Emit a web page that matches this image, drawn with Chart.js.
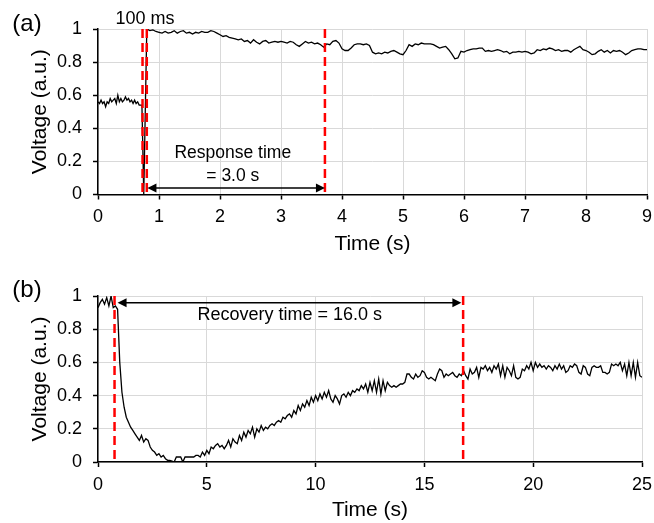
<!DOCTYPE html>
<html><head><meta charset="utf-8">
<script src="https://cdn.jsdelivr.net/npm/chart.js@4.4.1/dist/chart.umd.min.js"></script>
<style>
html,body{margin:0;padding:0;background:#fff;}
#ca{position:absolute;left:0;top:0;}
#cb{position:absolute;left:0;top:262px;}
</style></head><body>
<canvas id="ca" width="654" height="260"></canvas>
<canvas id="cb" width="654" height="261"></canvas>
<script>
// ---------- DATA ----------
const voltageTicks = [0, 0.2, 0.4, 0.6, 0.8, 1];
const timeTicksA = [0, 1, 2, 3, 4, 5, 6, 7, 8, 9];
const timeTicksB = [0, 5, 10, 15, 20, 25];

// Panel (a): baseline before the step, sampled every 0.025 s from 0 s
const stepA_pre = 0.025;
const voltageA_pre = [0.56,0.55,0.57,0.55,0.56,0.53,0.56,0.55,0.58,0.56,0.57,0.58,0.55,0.60,0.56,0.58,0.56,0.57,0.59,0.57,0.58,0.56,0.57,0.55,0.57,0.55,0.56,0.54,0.54];
// Panel (a): transition points
const timeA_edge = [0.72, 0.75];
const voltageA_edge = [0.54, 0.0];
// Panel (a): after the step, sampled every 0.05 s from 0.80 s
const startA_post = 0.80, stepA_post = 0.05;
const voltageA_post = [
1.00,0.99,0.995,0.985,0.98,0.975,0.985,0.975,0.98,0.99,0.975,0.985,0.99,0.975,0.98,0.97,0.98,0.975,0.985,0.98,0.98,0.99,0.985,0.975,0.965,
0.955,0.96,0.95,0.945,0.94,0.935,0.94,0.925,0.93,0.915,0.935,0.92,0.91,0.925,0.93,0.915,0.92,0.925,0.92,0.925,
0.92,0.915,0.925,0.92,0.905,0.895,0.91,0.925,0.915,0.92,0.91,0.915,0.905,0.89,0.91,0.905,0.925,0.93,0.915,0.88,
0.87,0.87,0.885,0.905,0.91,0.91,0.905,0.91,0.9,0.86,0.85,0.855,0.85,0.86,0.855,0.865,0.87,0.86,0.85,0.845,
0.87,0.905,0.895,0.91,0.905,0.915,0.91,0.91,0.91,0.905,0.895,0.885,0.89,0.895,0.875,0.85,0.82,0.825,0.865,0.86,
0.87,0.875,0.88,0.88,0.885,0.885,0.865,0.87,0.865,0.87,0.875,0.87,0.86,0.865,0.85,0.86,0.86,0.865,0.86,0.865,
0.86,0.85,0.855,0.875,0.87,0.88,0.875,0.885,0.88,0.87,0.875,0.865,0.87,0.87,0.86,0.875,0.885,0.895,0.875,0.87,
0.86,0.845,0.85,0.865,0.875,0.86,0.87,0.855,0.87,0.865,0.87,0.86,0.845,0.855,0.87,0.875,0.88,0.88,0.875,0.875];

// Panel (b): sampled every 0.1 s from 0 s to 25 s
const stepB = 0.1;
const voltageB = [
0.93,0.96,0.98,0.95,0.99,0.94,1.00,0.93,0.94,0.92,
0.60,0.42,0.33,0.27,0.24,0.21,0.19,0.17,0.15,0.13,
0.16,0.12,0.14,0.13,0.09,0.07,0.06,0.04,0.05,0.03,
0.04,0.02,0.01,0.01,0.005,0.00,0.03,0.03,0.03,0.00,
0.03,0.03,0.03,0.03,0.03,0.04,0.04,0.03,0.06,0.04,
0.07,0.05,0.09,0.08,0.10,0.11,0.09,0.10,0.08,0.10,
0.13,0.09,0.14,0.12,0.11,0.16,0.13,0.18,0.15,0.19,
0.17,0.21,0.15,0.20,0.18,0.22,0.19,0.21,0.20,0.22,
0.23,0.22,0.24,0.25,0.24,0.27,0.26,0.28,0.29,0.27,
0.31,0.29,0.34,0.31,0.35,0.33,0.37,0.34,0.39,0.36,
0.40,0.37,0.41,0.38,0.42,0.39,0.43,0.38,0.36,0.40,
0.38,0.35,0.40,0.41,0.39,0.42,0.40,0.43,0.42,0.44,
0.43,0.46,0.44,0.47,0.42,0.48,0.43,0.49,0.42,0.50,
0.41,0.49,0.43,0.48,0.46,0.45,0.46,0.45,0.46,0.47,
0.47,0.48,0.53,0.53,0.51,0.50,0.53,0.51,0.52,0.55,
0.54,0.51,0.50,0.51,0.50,0.49,0.53,0.56,0.55,0.51,
0.53,0.52,0.53,0.54,0.52,0.51,0.53,0.52,0.55,0.52,
0.50,0.56,0.53,0.54,0.57,0.51,0.57,0.56,0.58,0.55,
0.57,0.54,0.58,0.56,0.59,0.52,0.58,0.51,0.57,0.55,
0.52,0.58,0.51,0.50,0.51,0.56,0.55,0.58,0.56,0.60,
0.55,0.60,0.57,0.59,0.57,0.58,0.56,0.58,0.57,0.55,
0.58,0.56,0.59,0.56,0.58,0.54,0.55,0.58,0.57,0.59,
0.58,0.54,0.53,0.58,0.57,0.53,0.52,0.57,0.58,0.57,
0.57,0.58,0.54,0.54,0.53,0.54,0.59,0.58,0.59,0.58,
0.60,0.55,0.59,0.52,0.60,0.52,0.60,0.51,0.60,0.52,
0.51];

// Annotation values
const markersA = [0.73, 0.80, 3.72];
const arrowA = {from: 0.81, to: 3.72, v: 0.04};
const markersB = [0.76, 16.78];
const arrowB = {from: 0.90, to: 16.70, v: 0.96};

// ---------- BUILD ----------
const r3 = v => Math.round(v * 1000) / 1000;
const pointsA = [];
voltageA_pre.forEach((v, i) => pointsA.push({x: r3(i * stepA_pre), y: v}));
timeA_edge.forEach((t, i) => pointsA.push({x: t, y: voltageA_edge[i]}));
voltageA_post.forEach((v, i) => pointsA.push({x: r3(startA_post + i * stepA_post), y: v}));
const pointsB = voltageB.map((v, i) => ({x: r3(i * stepB), y: v}));

Chart.defaults.font.family = '"Liberation Sans", Arial, sans-serif';
Chart.defaults.color = '#000';

function arrowHead(ctx, x, y, dir) {
  ctx.beginPath();
  ctx.moveTo(x, y);
  ctx.lineTo(x - dir * 9, y - 4.5);
  ctx.lineTo(x - dir * 9, y + 4.5);
  ctx.closePath();
  ctx.fill();
}

function annotPlugin(spec) {
  return {
    id: 'annot',
    afterDatasetsDraw(chart) {
      const ctx = chart.ctx, xs = chart.scales.x, ys = chart.scales.y;
      ctx.save();
      ctx.strokeStyle = '#ff0000';
      ctx.lineWidth = 2.5;
      ctx.setLineDash([9, 5]);
      spec.markers.forEach(t => {
        const px = xs.getPixelForValue(t);
        ctx.beginPath();
        ctx.moveTo(px, ys.getPixelForValue(1));
        ctx.lineTo(px, ys.getPixelForValue(0));
        ctx.stroke();
      });
      ctx.setLineDash([]);
      const a = spec.arrow;
      const y = ys.getPixelForValue(a.v);
      const x1 = xs.getPixelForValue(a.from), x2 = xs.getPixelForValue(a.to);
      ctx.strokeStyle = '#000'; ctx.fillStyle = '#000'; ctx.lineWidth = 1.5;
      ctx.beginPath(); ctx.moveTo(x1 + 6, y); ctx.lineTo(x2 - 6, y); ctx.stroke();
      arrowHead(ctx, x1, y, -1);
      arrowHead(ctx, x2, y, 1);
      ctx.textAlign = 'center';
      ctx.textBaseline = 'middle';
      spec.texts.forEach(tx => {
        ctx.font = tx.size + 'px "Liberation Sans", Arial, sans-serif';
        ctx.fillText(tx.text, xs.getPixelForValue(tx.t), ys.getPixelForValue(tx.v));
      });
      ctx.font = '24px "Liberation Sans", Arial, sans-serif';
      ctx.fillText(spec.panel.text, spec.panel.x, spec.panel.y);
      ctx.restore();
    }
  };
}

function makeChart(id, points, xMax, xTicks, geom, spec) {
  return new Chart(document.getElementById(id), {
    type: 'line',
    data: {datasets: [{data: points, borderColor: '#000', borderWidth: 1.3, pointRadius: 0, tension: 0, fill: false}]},
    options: {
      responsive: false, animation: false, events: [],
      layout: {padding: {top: geom.top, right: geom.right, left: 0, bottom: 0}},
      plugins: {legend: {display: false}, tooltip: {enabled: false}},
      scales: {
        x: {
          type: 'linear', min: 0, max: xMax,
          afterBuildTicks: s => { s.ticks = xTicks.map(v => ({value: v})); },
          afterFit: s => { s.height = geom.xh; s.paddingLeft = 0; s.paddingRight = 0; },
          grid: {color: '#d9d9d9', lineWidth: 1, tickColor: '#000', tickLength: 5, tickWidth: 1.5},
          border: {color: '#000', width: 1.5},
          ticks: {font: {size: 18}, color: '#000', padding: 7, maxRotation: 0},
          title: {display: true, text: 'Time (s)', font: {size: 21}, color: '#000', padding: {top: 0, bottom: geom.titleB}}
        },
        y: {
          min: 0, max: 1,
          afterBuildTicks: s => { s.ticks = voltageTicks.map(v => ({value: v})); },
          afterFit: s => { s.width = 98; s.paddingTop = 0; s.paddingBottom = 0; },
          grid: {color: '#d9d9d9', lineWidth: 1, tickColor: '#000', tickLength: 5, tickWidth: 1.5},
          border: {color: '#000', width: 1.5},
          ticks: {font: {size: 18}, color: '#000', padding: 11, callback: v => String(Math.round(v * 10) / 10)},
          title: {display: true, text: 'Voltage (a.u.)', font: {size: 21}, color: '#000', padding: {top: 28, bottom: 0}}
        }
      }
    },
    plugins: [annotPlugin(spec)]
  });
}

makeChart('ca', pointsA, 9, timeTicksA, {top: 29, right: 7, xh: 65.5, titleB: 3}, {
  markers: markersA, arrow: arrowA,
  texts: [
    {text: '100 ms', t: 0.77, v: 1.06, size: 18},
    {text: 'Response time', t: 2.21, v: 0.25, size: 17.5},
    {text: '= 3.0 s', t: 2.21, v: 0.11, size: 17.5}
  ],
  panel: {text: '(a)', x: 27, y: 24}
});

makeChart('cb', pointsB, 25, timeTicksB, {top: 34, right: 12, xh: 61, titleB: 0}, {
  markers: markersB, arrow: arrowB,
  texts: [
    {text: 'Recovery time = 16.0 s', t: 8.81, v: 0.885, size: 18}
  ],
  panel: {text: '(b)', x: 27, y: 28}
});
</script>
</body></html>
